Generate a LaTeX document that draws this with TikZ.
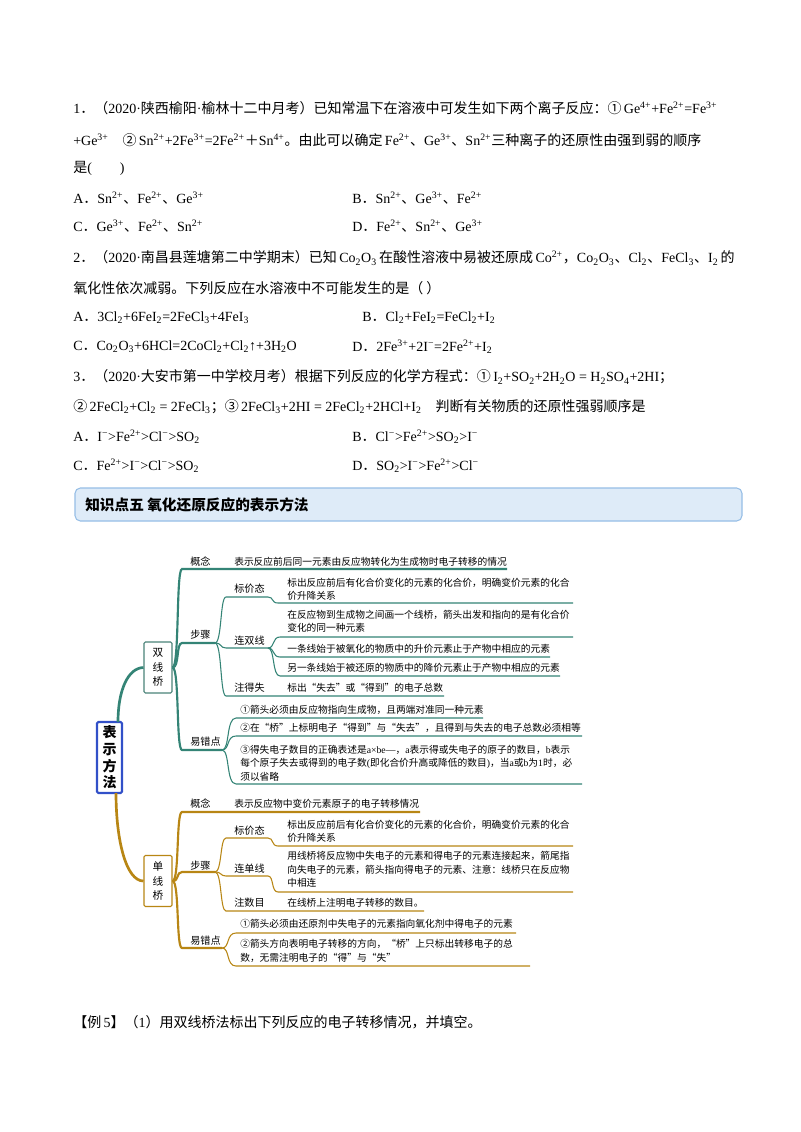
\documentclass[tikz,border=0pt]{standalone}
\usepackage{fontspec}
\usetikzlibrary{calc}
\setmainfont{Liberation Serif}
\newfontfamily\latf{Liberation Serif}
\newfontfamily\cjkf{Noto Sans CJK SC}
\XeTeXinterchartokenstate=1
\newXeTeXintercharclass\CJKcls
\newcommand\setcls[2]{\count255=#1 \loop \XeTeXcharclass\count255=\CJKcls \ifnum\count255<#2 \advance\count255 by 1 \repeat}
\setcls{"4E00}{"9FFF}
\setcls{"3000}{"303F}
\setcls{"FF00}{"FFEF}
\setcls{"2460}{"2473}
\setcls{"201C}{"201D}
\XeTeXinterchartoks 0 \CJKcls={\cjkf}
\XeTeXinterchartoks 4095 \CJKcls={\cjkf}
\XeTeXinterchartoks \CJKcls 0={\latf}
\XeTeXinterchartoks 4095 0={\latf}
\newcommand\hsup[1]{\textsuperscript{#1}}
\newcommand\hsub[1]{\textsubscript{#1}}
\definecolor{tealc}{RGB}{52,132,118}
\definecolor{goldc}{RGB}{184,134,20}
\definecolor{rootc}{RGB}{50,80,200}
\definecolor{hdrfill}{RGB}{222,235,248}
\definecolor{hdrdraw}{RGB}{150,190,230}
\newcommand\itm[7]{\draw[#1] (#2) .. controls ($(#2)+(7,0)$) and (#4-6,#3) .. (#4,#3) -- (#5,#3) .. controls (#5+6,#3) and (#5+3,#6) .. (#5+10,#6) -- (#7,#6);}
\newcommand\jnt[5]{\draw[#1] (#2) .. controls ($(#2)+(7,0)$) and (#4-6,#3) .. (#4,#3) -- (#5,#3);}
\begin{document}
\begin{tikzpicture}[x=0.75pt,y=-0.75pt,
  q/.style={anchor=west,inner sep=0pt,font=\fontsize{10.5}{13}\selectfont},
  mm/.style={anchor=west,inner sep=0pt,align=left,font=\fontsize{7.3}{10}\selectfont},
  lb/.style={anchor=west,inner sep=0pt,font=\fontsize{7.6}{10}\selectfont},
  tb/.style={tealc,line width=0.8pt},
  gb/.style={goldc,line width=0.8pt},
  tb1/.style={tealc,line width=1.6pt},
  gb1/.style={goldc,line width=1.6pt}]
\useasboundingbox (0,0) rectangle (800,1132);
\fill[white] (0,0) rectangle (800,1132);
% questions
\node[q] (q1a) at (73,108) {1．（2020·陕西榆阳·榆林十二中月考）已知常温下在溶液中可发生如下两个离子反应：①\,Ge\hsup{4+}+Fe\hsup{2+}=Fe\hsup{3+}};
\node[q] (q1b) at (73,140) {+Ge\hsup{3+}\quad ②\,Sn\hsup{2+}+2Fe\hsup{3+}=2Fe\hsup{2+}＋Sn\hsup{4+}。由此可以确定\,Fe\hsup{2+}、Ge\hsup{3+}、Sn\hsup{2+}三种离子的还原性由强到弱的顺序};
\node[q] (q1c) at (73,168) {是(\qquad)};
\node[q] (q1A) at (73,198) {A．Sn\hsup{2+}、Fe\hsup{2+}、Ge\hsup{3+}};
\node[q] (q1B) at (352,198) {B．Sn\hsup{2+}、Ge\hsup{3+}、Fe\hsup{2+}};
\node[q] (q1C) at (73,226) {C．Ge\hsup{3+}、Fe\hsup{2+}、Sn\hsup{2+}};
\node[q] (q1D) at (352,226) {D．Fe\hsup{2+}、Sn\hsup{2+}、Ge\hsup{3+}};
\node[q] (q2a) at (73,258) {2．（2020·南昌县莲塘第二中学期末）已知\,Co\hsub{2}O\hsub{3}\,在酸性溶液中易被还原成\,Co\hsup{2+}，Co\hsub{2}O\hsub{3}、Cl\hsub{2}、FeCl\hsub{3}、I\hsub{2}\,的};
\node[q] (q2b) at (73,288) {氧化性依次减弱。下列反应在水溶液中不可能发生的是（ ）};
\node[q] (q2A) at (73,318) {A．3Cl\hsub{2}+6FeI\hsub{2}=2FeCl\hsub{3}+4FeI\hsub{3}};
\node[q] (q2B) at (362,318) {B．Cl\hsub{2}+FeI\hsub{2}=FeCl\hsub{2}+I\hsub{2}};
\node[q] (q2C) at (73,347) {C．Co\hsub{2}O\hsub{3}+6HCl=2CoCl\hsub{2}+Cl\hsub{2}↑+3H\hsub{2}O};
\node[q] (q2D) at (352,347) {D．2Fe\hsup{3+}+2I\hsup{−}=2Fe\hsup{2+}+I\hsub{2}};
\node[q] (q3a) at (73,377) {3．（2020·大安市第一中学校月考）根据下列反应的化学方程式：①\,I\hsub{2}+SO\hsub{2}+2H\hsub{2}O = H\hsub{2}SO\hsub{4}+2HI；};
\node[q] (q3b) at (73,407) {②\,2FeCl\hsub{2}+Cl\hsub{2} = 2FeCl\hsub{3}；③\,2FeCl\hsub{3}+2HI = 2FeCl\hsub{2}+2HCl+I\hsub{2}\quad 判断有关物质的还原性强弱顺序是};
\node[q] (q3A) at (73,437) {A．I\hsup{−}>Fe\hsup{2+}>Cl\hsup{−}>SO\hsub{2}};
\node[q] (q3B) at (352,437) {B．Cl\hsup{−}>Fe\hsup{2+}>SO\hsub{2}>I\hsup{−}};
\node[q] (q3C) at (73,466) {C．Fe\hsup{2+}>I\hsup{−}>Cl\hsup{−}>SO\hsub{2}};
\node[q] (q3D) at (352,466) {D．SO\hsub{2}>I\hsup{−}>Fe\hsup{2+}>Cl\hsup{−}};
% header
\draw[hdrdraw,fill=hdrfill,rounded corners=4pt,line width=0.8pt] (75,488) rectangle (742,521);
\node[q,font=\fontsize{11}{13}\bfseries] (hdr) at (85,504.5) {知识点五\ 氧化还原反应的表示方法};
% root
\node[draw=rootc,line width=1.6pt,rounded corners=1pt,minimum width=25*0.75pt,minimum height=71*0.75pt,inner sep=0pt,align=center,font=\fontsize{10.5}{12.5}\selectfont\bfseries] (R) at (109.5,757.5) {表\\示\\方\\法};
\node[draw=tealc!70!gray,line width=0.8pt,rounded corners=1pt,minimum width=28*0.75pt,minimum height=51*0.75pt,inner sep=0pt,align=center,font=\fontsize{8}{11}\selectfont] (SX) at (158,667.5) {双\\线\\桥};
\node[draw=goldc,line width=0.8pt,rounded corners=1pt,minimum width=28*0.75pt,minimum height=51*0.75pt,inner sep=0pt,align=center,font=\fontsize{8}{11}\selectfont] (DX) at (158,881) {单\\线\\桥};
\coordinate (Rt) at (118,722);
\coordinate (Rb) at (116,793);
\draw[tb1,line width=2pt] (Rt) .. controls (118,690) and (128,668) .. (SX.west);
\draw[gb1,line width=2pt] (Rb) .. controls (116,840) and (126,881) .. (DX.west);
\coordinate (S1) at (SX.east);
\coordinate (S2) at (DX.east);
\coordinate (J1) at (215,643);
\coordinate (J2) at (222,750);
\coordinate (J3) at (268,648);
\coordinate (J4) at (215,872);
\coordinate (J5) at (222,948);
% upper level 1
\itm{tb1}{S1}{569}{182}{215}{569}{507}
\jnt{tb1}{S1}{643}{182}{215}
\jnt{tb1}{S1}{750}{182}{222}
\node[lb] (g1) at (190,562) {概念};
\node[lb] (b1) at (190,635) {步骤};
\node[lb] (y1) at (190,742) {易错点};
\node[mm] (g1t) at (234,562) {表示反应前后同一元素由反应物转化为生成物时电子转移的情况};
% upper level 2
\itm{tb}{J1}{597}{226}{268}{603}{573}
\jnt{tb}{J1}{648}{226}{268}
\itm{tb}{J1}{696}{226}{268}{696}{444}
\node[lb] (bj1) at (234,589) {标价态};
\node[lb] (ls1) at (234,641) {连双线};
\node[lb] (zd1) at (234,688) {注得失};
\node[mm] (bj1t) at (287,589) {标出反应前后有化合价变化的元素的化合价，明确变价元素的化合\\价升降关系};
\draw[tb] (J3) .. controls (275,648) and (272,637) .. (280,637) -- (573,637);
\draw[tb] (J3) .. controls (275,648) and (272,657) .. (280,657) -- (550,657);
\draw[tb] (J3) .. controls (275,648) and (272,676) .. (280,676) -- (560,676);
\node[mm] (ls1a) at (287,621.5) {在反应物到生成物之间画一个线桥，箭头出发和指向的是有化合价\\变化的同一种元素};
\node[mm] (ls1b) at (287,649) {一条线始于被氧化的物质中的升价元素止于产物中相应的元素};
\node[mm] (ls1c) at (287,668) {另一条线始于被还原的物质中的降价元素止于产物中相应的元素};
\node[mm] (zd1t) at (287,688) {标出“失去”或“得到”的电子总数};
\draw[tb] (J2) .. controls (230,750) and (226,718) .. (236,718) -- (483,718);
\draw[tb] (J2) .. controls (230,750) and (226,736) .. (236,736) -- (582,736);
\draw[tb] (J2) .. controls (230,750) and (226,784) .. (236,784) -- (582,784);
\node[mm] (e1) at (240,710) {①箭头必须由反应物指向生成物，且两端对准同一种元素};
\node[mm] (e2) at (240,728) {②在“桥”上标明电子“得到”与“失去”，且得到与失去的电子总数必须相等};
\node[mm] (e3) at (240,763) {③得失电子数目的正确表述是a×be—，a表示得或失电子的原子的数目，b表示\\每个原子失去或得到的电子数(即化合价升高或降低的数目)，当a或b为1时，必\\须以省略};
% lower level 1
\itm{gb1}{S2}{812}{182}{215}{812}{420}
\jnt{gb1}{S2}{872}{182}{215}
\jnt{gb1}{S2}{948}{182}{222}
\node[lb] (g2) at (190,804) {概念};
\node[lb] (b2) at (190,866) {步骤};
\node[lb] (y2) at (190,941) {易错点};
\node[mm] (g2t) at (234,804) {表示反应物中变价元素原子的电子转移情况};
\itm{gb}{J4}{838}{226}{268}{846}{573}
\itm{gb}{J4}{876}{226}{268}{892}{573}
\itm{gb}{J4}{911}{226}{268}{911}{424}
\node[lb] (bj2) at (234,831) {标价态};
\node[lb] (ls2) at (234,869) {连单线};
\node[lb] (zs2) at (234,903) {注数目};
\node[mm] (bj2t) at (287,831) {标出反应前后有化合价变化的元素的化合价，明确变价元素的化合\\价升降关系};
\node[mm] (ls2t) at (287,869.5) {用线桥将反应物中失电子的元素和得电子的元素连接起来，箭尾指\\向失电子的元素，箭头指向得电子的元素、注意：线桥只在反应物\\中相连};
\node[mm] (zs2t) at (287,903) {在线桥上注明电子转移的数目。};
\draw[gb] (J5) .. controls (230,948) and (226,933) .. (236,933) -- (516,933);
\draw[gb] (J5) .. controls (230,948) and (226,966) .. (236,966) -- (530,966);
\node[mm] (f1) at (240,924) {①箭头必须由还原剂中失电子的元素指向氧化剂中得电子的元素};
\node[mm] (f2) at (240,951) {②箭头方向表明电子转移的方向，“桥”上只标出转移电子的总\\数，无需注明电子的“得”与“失”};
% example
\node[q] (ex) at (73,1022) {【例\,5】（1）用双线桥法标出下列反应的电子转移情况，并填空。};
\end{tikzpicture}
\end{document}
